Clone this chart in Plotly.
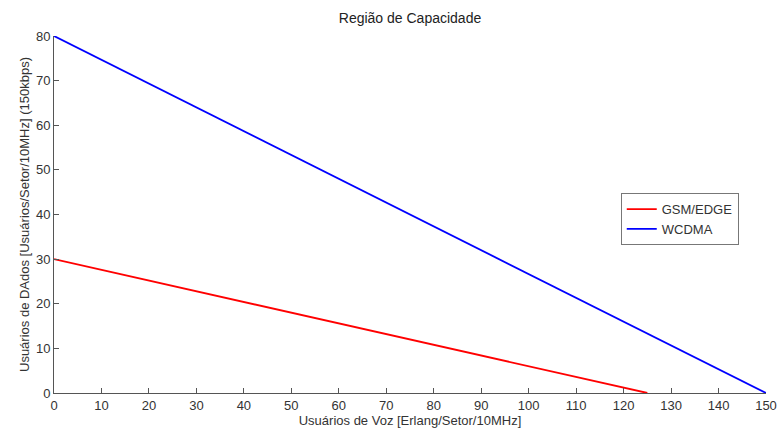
import plotly.graph_objects as go

# Data
gsm_x = [0, 125]
gsm_y = [30, 0]
wcdma_x = [0, 150]
wcdma_y = [80, 0]

x_ticks = [0, 10, 20, 30, 40, 50, 60, 70, 80, 90, 100, 110, 120, 130, 140, 150]
y_ticks = [0, 10, 20, 30, 40, 50, 60, 70, 80]

font_family = "Liberation Sans, Arial, sans-serif"
axis_color = "#555555"
text_color = "#333333"

fig = go.Figure()
fig.add_trace(go.Scatter(x=gsm_x, y=gsm_y, mode="lines", name="GSM/EDGE",
                         line=dict(color="#FF0000", width=1.8)))
fig.add_trace(go.Scatter(x=wcdma_x, y=wcdma_y, mode="lines", name="WCDMA",
                         line=dict(color="#0000FF", width=1.8)))

fig.update_layout(
    width=781, height=435,
    margin=dict(l=54, r=15, t=36, b=42, autoexpand=False),
    paper_bgcolor="white", plot_bgcolor="white",
    font=dict(family=font_family, size=13, color=text_color),
    title=dict(text="Região de Capacidade", x=0.5, xref="paper", xanchor="center",
               y=1 - 18/435, yanchor="middle",
               font=dict(size=14, color="#222222")),
    showlegend=True,
    legend=dict(x=0.796, y=0.56, xanchor="left", yanchor="top",
                bordercolor="#777777", borderwidth=1, bgcolor="white",
                font=dict(size=13, color=text_color),
                tracegroupgap=0, itemwidth=30),
    xaxis=dict(range=[0, 150], tickvals=x_ticks, ticks="inside", ticklen=5,
               tickcolor=axis_color, showline=True, linecolor=axis_color,
               linewidth=1, showgrid=False, zeroline=False, mirror=False,
               automargin=False,
               title=dict(text="Usuários de Voz [Erlang/Setor/10MHz]",
                          standoff=4, font=dict(size=13, color=text_color))),
    yaxis=dict(range=[0, 80], tickvals=y_ticks, ticks="inside", ticklen=5,
               tickcolor=axis_color, showline=True, linecolor=axis_color,
               linewidth=1, showgrid=False, zeroline=False, mirror=False,
               automargin=False,
               title=dict(text="Usuários de DAdos [Usuários/Setor/10MHz] (150kbps)",
                          standoff=3, font=dict(size=13, color=text_color))),
)

fig.write_html("out.html")
